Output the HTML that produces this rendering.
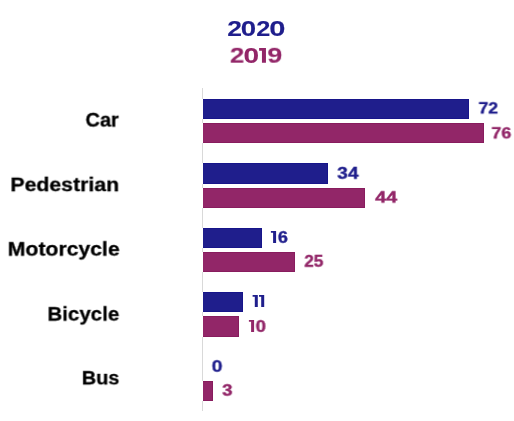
<!DOCTYPE html>
<html><head><meta charset="utf-8">
<style>
html,body{margin:0;padding:0;background:#fff;width:514px;height:421px;overflow:hidden;}
body{position:relative;font-family:"Liberation Sans",sans-serif;font-weight:bold;}
.t{position:absolute;left:0;top:0;white-space:nowrap;line-height:1;transform-origin:0 0;will-change:transform;-webkit-font-smoothing:antialiased;}
.ov{position:absolute;left:0;top:0;}
.axis{position:absolute;left:202px;top:88px;width:1px;height:322.6px;background:#d9d9d9;}
.bar{position:absolute;left:202px;box-sizing:border-box;border-left:1px solid #fff;}
.b{background:#1f1e8c;box-shadow:inset -1px 0 0 #17158a,inset 0 1px 0 #17158a,inset 0 -1px 0 #17158a;}
.m{background:#922668;box-shadow:inset -1px 0 0 #881c5e,inset 0 1px 0 #881c5e,inset 0 -1px 0 #881c5e;}
</style></head><body>
<div class="axis"></div>
<div class="bar b" style="top:99px;height:20px;width:267px;"></div>
<div class="bar m" style="top:123px;height:20px;width:282px;"></div>
<div class="bar b" style="top:163px;height:21px;width:126px;"></div>
<div class="bar m" style="top:188px;height:20px;width:163px;"></div>
<div class="bar b" style="top:228px;height:20px;width:60px;"></div>
<div class="bar m" style="top:252px;height:20px;width:93px;"></div>
<div class="bar b" style="top:292px;height:20px;width:41px;"></div>
<div class="bar m" style="top:316px;height:21px;width:37px;"></div>
<div class="bar m" style="top:381px;height:20px;width:11px;"></div>
<svg class="ov" width="514" height="421" viewBox="0 0 514 421"><path d="M252.60 295.00H257.80V307.00H254.80V296.80H252.60Z" fill="#1f1e8c"/><path d="M259.00 295.00H264.20V307.00H261.20V296.80H259.00Z" fill="#1f1e8c"/><path d="M270.90 231.00H276.10V243.00H273.10V232.80H270.90Z" fill="#1f1e8c"/><path d="M248.90 319.90H254.10V331.90H251.10V321.70H248.90Z" fill="#922668"/><path d="M259.10 47.95H265.95V62.80H261.95V50.70H259.10Z" fill="#922668"/></svg>
<div class="t" style="font-size:22px;color:#1f1e8c;-webkit-text-stroke:0.1px #1f1e8c;transform:translate(227.23px,17.14px) scale(1.2042,1.0387);">2</div>
<div class="t" style="font-size:22px;color:#1f1e8c;-webkit-text-stroke:0.1px #1f1e8c;transform:translate(240.86px,17.59px) scale(1.2573,1.0389);">0</div>
<div class="t" style="font-size:22px;color:#1f1e8c;-webkit-text-stroke:0.1px #1f1e8c;transform:translate(256.25px,17.66px) scale(1.1514,1.0118);">2</div>
<div class="t" style="font-size:22px;color:#1f1e8c;-webkit-text-stroke:0.1px #1f1e8c;transform:translate(269.25px,17.62px) scale(1.3217,1.0410);">0</div>
<div class="t" style="font-size:22px;color:#922668;-webkit-text-stroke:0.1px #922668;transform:translate(229.85px,44.77px) scale(1.1707,0.9942);">2</div>
<div class="t" style="font-size:22px;color:#922668;-webkit-text-stroke:0.1px #922668;transform:translate(243.62px,44.74px) scale(1.2743,1.0013);">0</div>
<div class="t" style="font-size:22px;color:#922668;-webkit-text-stroke:0.1px #922668;transform:translate(267.30px,44.80px) scale(1.2208,0.9922);">9</div>
<div class="t" style="font-size:20px;color:#000;-webkit-text-stroke:0.3px #000;transform:translate(85.46px,109.90px) scale(1.0000,0.9783);">Car</div>
<div class="t" style="font-size:20px;color:#000;-webkit-text-stroke:0.3px #000;transform:translate(10.37px,174.88px) scale(1.0637,0.9592);">Pedestrian</div>
<div class="t" style="font-size:20px;color:#000;-webkit-text-stroke:0.3px #000;transform:translate(7.67px,239.30px) scale(1.0610,0.9592);">Motorcycle</div>
<div class="t" style="font-size:20px;color:#000;-webkit-text-stroke:0.3px #000;transform:translate(47.40px,304.30px) scale(1.0247,0.9592);">Bicycle</div>
<div class="t" style="font-size:20px;color:#000;-webkit-text-stroke:0.3px #000;transform:translate(81.76px,368.37px) scale(0.9924,0.9392);">Bus</div>
<div class="t" style="font-size:17px;color:#1f1e8c;-webkit-text-stroke:0.4px #1f1e8c;transform:translate(478.49px,100.39px) scale(1.0400,0.9299);">72</div>
<div class="t" style="font-size:17px;color:#922668;-webkit-text-stroke:0.4px #922668;transform:translate(491.47px,125.41px) scale(1.0432,0.9286);">76</div>
<div class="t" style="font-size:17px;color:#1f1e8c;-webkit-text-stroke:0.4px #1f1e8c;transform:translate(337.35px,164.95px) scale(1.1145,0.9826);">34</div>
<div class="t" style="font-size:17px;color:#922668;-webkit-text-stroke:0.4px #922668;transform:translate(375.09px,189.35px) scale(1.1599,0.9428);">44</div>
<div class="t" style="font-size:17px;color:#1f1e8c;-webkit-text-stroke:0.4px #1f1e8c;transform:translate(277.98px,229.17px) scale(1.0508,0.9749);">6</div>
<div class="t" style="font-size:17px;color:#922668;-webkit-text-stroke:0.4px #922668;transform:translate(304.31px,252.96px) scale(1.0078,0.9815);">25</div>
<div class="t" style="font-size:17px;color:#922668;-webkit-text-stroke:0.4px #922668;transform:translate(255.76px,318.11px) scale(1.0841,0.9823);">0</div>
<div class="t" style="font-size:17px;color:#1f1e8c;-webkit-text-stroke:0.4px #1f1e8c;transform:translate(211.59px,358.26px) scale(1.1329,0.9621);">0</div>
<div class="t" style="font-size:17px;color:#922668;-webkit-text-stroke:0.4px #922668;transform:translate(222.30px,382.23px) scale(1.0864,0.9589);">3</div>
</body></html>
